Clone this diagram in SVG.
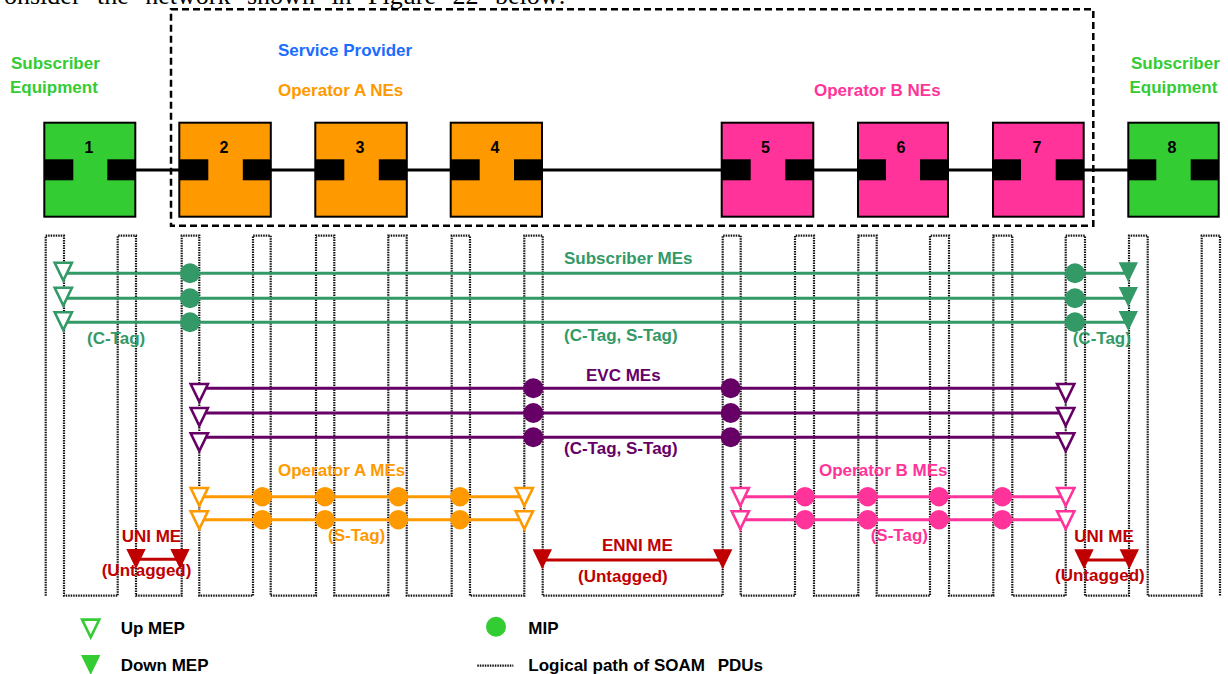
<svg xmlns="http://www.w3.org/2000/svg" xmlns:xlink="http://www.w3.org/1999/xlink" width="1228" height="674" viewBox="0 0 1228 674">
<style>
text{font-family:"Liberation Sans",Arial,sans-serif;font-weight:bold;font-size:17px}
.num{font-size:16px;fill:#000;text-anchor:middle}
.node{stroke:#000;stroke-width:2}
.ne1{fill:#33CC33}.neA{fill:#FF9900}.neB{fill:#FF3399}
.port{fill:#000}
.link{stroke:#000;stroke-width:3;fill:none}
.dot{stroke:#111;stroke-width:2.2;stroke-dasharray:1.5 1;fill:none}
.g{fill:#339966}.p{fill:#660066}.o{fill:#FF9900}.k{fill:#FF3399}.r{fill:#C00000}.lg{fill:#33CC33}.bl{fill:#1A6CFF}.blk{fill:#000}
.lineG{stroke:#339966;stroke-width:3}
.lineP{stroke:#660066;stroke-width:3}
.lineO{stroke:#FF9900;stroke-width:3}
.lineK{stroke:#FF3399;stroke-width:3}
.lineR{stroke:#C00000;stroke-width:3}
.upG{fill:#fff;stroke:#339966;stroke-width:2.6}
.upP{fill:#fff;stroke:#660066;stroke-width:2.6}
.upO{fill:#fff;stroke:#FF9900;stroke-width:2.6}
.upK{fill:#fff;stroke:#FF3399;stroke-width:2.6}
.upL{fill:#fff;stroke:#33CC33;stroke-width:2.6}
.dnG{fill:#339966}.dnR{fill:#C00000}.dnL{fill:#33CC33}
</style>
<defs>
<path id="up" d="M-8.6,1.3 H8.6 L0,19 Z"/>
<path id="dn" d="M-9.7,0 H9.7 L0,20 Z"/>
</defs>

<text x="4" y="4" style="font-family:'Liberation Serif',serif;font-weight:normal;font-size:26px;word-spacing:10px">onsider the network shown in Figure 22 below:</text>

<g id="provider-box">
<rect x="171" y="9.3" width="922.3" height="216.4" fill="none" stroke="#000" stroke-width="2.5" stroke-dasharray="7 4"/>
</g>

<g id="labels-top">
<text x="11" y="68.5" class="lg">Subscriber</text>
<text x="10" y="92.5" class="lg">Equipment</text>
<text x="278" y="55.5" class="bl">Service Provider</text>
<text x="278" y="96" class="o">Operator A NEs</text>
<text x="814" y="96" class="k">Operator B NEs</text>
<text x="1131" y="68.5" class="lg">Subscriber</text>
<text x="1129.5" y="92.5" class="lg">Equipment</text>
</g>

<g id="connectors">
<line class="link" x1="135" y1="170" x2="1129" y2="170"/>
<path class="dot" d="M45.7 595.7 V235.7 H64 V595.7 H117.7 V235.7 H136 V595.7 H181.7 V235.7 H199.3 V595.7 H253 V235.7 H270.7 V595.7 H316 V235.7 H334.3 V595.7 H388.3 V235.7 H406.7 V595.7 H451.7 V235.7 H470 V595.7 H524.3 V235.7 H542.7 V595.7 H722.7 V235.7 H740.7 V595.7 H795 V235.7 H814 V595.7 H858.3 V235.7 H876.7 V595.7 H930 V235.7 H949 V595.7 H993.3 V235.7 H1012.3 V595.7 H1065.7 V235.7 H1085 V595.7 H1129 V235.7 H1147.7 V595.7 H1201.7 V235.7 H1220 V595.7"/>
</g>

<g id="node1"><rect class="node ne1" x="44.3" y="122.7" width="91" height="94"/><rect class="port" x="44.3" y="159.3" width="29" height="21"/><rect class="port" x="107.3" y="159.3" width="28" height="21"/><text class="num" x="89" y="153">1</text></g>
<g id="node2"><rect class="node neA" x="179.3" y="122.7" width="91.5" height="94"/><rect class="port" x="179.3" y="159.3" width="29" height="21"/><rect class="port" x="242.8" y="159.3" width="28" height="21"/><text class="num" x="224" y="153">2</text></g>
<g id="node3"><rect class="node neA" x="315.3" y="122.7" width="91.5" height="94"/><rect class="port" x="315.3" y="159.3" width="29" height="21"/><rect class="port" x="378.8" y="159.3" width="28" height="21"/><text class="num" x="360" y="153">3</text></g>
<g id="node4"><rect class="node neA" x="450.7" y="122.7" width="91.3" height="94"/><rect class="port" x="450.7" y="159.3" width="29" height="21"/><rect class="port" x="514" y="159.3" width="28" height="21"/><text class="num" x="495" y="153">4</text></g>
<g id="node5"><rect class="node neB" x="721.7" y="122.7" width="91.6" height="94"/><rect class="port" x="721.7" y="159.3" width="29" height="21"/><rect class="port" x="785.3" y="159.3" width="28" height="21"/><text class="num" x="765.5" y="153">5</text></g>
<g id="node6"><rect class="node neB" x="858" y="122.7" width="90" height="94"/><rect class="port" x="858" y="159.3" width="28" height="21"/><rect class="port" x="920" y="159.3" width="28" height="21"/><text class="num" x="901" y="153">6</text></g>
<g id="node7"><rect class="node neB" x="993" y="122.7" width="90.7" height="94"/><rect class="port" x="993" y="159.3" width="28" height="21"/><rect class="port" x="1055.7" y="159.3" width="28" height="21"/><text class="num" x="1037" y="153">7</text></g>
<g id="node8"><rect class="node ne1" x="1128.3" y="122.7" width="90.4" height="94"/><rect class="port" x="1128.3" y="159.3" width="28" height="21"/><rect class="port" x="1190.7" y="159.3" width="28" height="21"/><text class="num" x="1172" y="153">8</text></g>

<g id="subscriber-mes">
<line class="lineG" x1="63" y1="273.3" x2="1128" y2="273.3"/>
<line class="lineG" x1="63" y1="298.3" x2="1128" y2="298.3"/>
<line class="lineG" x1="63" y1="322.3" x2="1128" y2="322.3"/>
<use xlink:href="#up" class="upG" x="63.3" y="261.5"/>
<use xlink:href="#up" class="upG" x="63.3" y="286.5"/>
<use xlink:href="#up" class="upG" x="63.3" y="311"/>
<circle class="g" cx="190" cy="273.3" r="10"/>
<circle class="g" cx="190" cy="298.3" r="10"/>
<circle class="g" cx="190" cy="322.3" r="10"/>
<circle class="g" cx="1075" cy="273.3" r="10"/>
<circle class="g" cx="1075" cy="298.3" r="10"/>
<circle class="g" cx="1075" cy="322.3" r="10"/>
<use xlink:href="#dn" class="dnG" x="1128.3" y="262.3"/>
<use xlink:href="#dn" class="dnG" x="1128.3" y="287"/>
<use xlink:href="#dn" class="dnG" x="1128.3" y="311"/>
<text x="564" y="263.5" class="g">Subscriber MEs</text>
<text x="87" y="344" class="g">(C-Tag)</text>
<text x="564" y="341" class="g">(C-Tag, S-Tag)</text>
<text x="1072.7" y="344" class="g">(C-Tag)</text>
</g>

<g id="evc-mes">
<line class="lineP" x1="199" y1="388.3" x2="1066" y2="388.3"/>
<line class="lineP" x1="199" y1="413" x2="1066" y2="413"/>
<line class="lineP" x1="199" y1="437.3" x2="1066" y2="437.3"/>
<use xlink:href="#up" class="upP" x="199.3" y="382.7"/>
<use xlink:href="#up" class="upP" x="199.3" y="406.7"/>
<use xlink:href="#up" class="upP" x="199.3" y="432"/>
<use xlink:href="#up" class="upP" x="1065.7" y="382.7"/>
<use xlink:href="#up" class="upP" x="1065.7" y="406.7"/>
<use xlink:href="#up" class="upP" x="1065.7" y="432"/>
<circle class="p" cx="533.3" cy="388.3" r="10"/>
<circle class="p" cx="533.3" cy="413" r="10"/>
<circle class="p" cx="533.3" cy="437.3" r="10"/>
<circle class="p" cx="730.7" cy="388.3" r="10"/>
<circle class="p" cx="730.7" cy="413" r="10"/>
<circle class="p" cx="730.7" cy="437.3" r="10"/>
<text x="586" y="381" class="p">EVC MEs</text>
<text x="564" y="454" class="p">(C-Tag, S-Tag)</text>
</g>

<g id="operator-a-mes">
<line class="lineO" x1="199" y1="496.7" x2="524" y2="496.7"/>
<line class="lineO" x1="199" y1="519.7" x2="524" y2="519.7"/>
<use xlink:href="#up" class="upO" x="199.3" y="486.7"/>
<use xlink:href="#up" class="upO" x="199.3" y="510"/>
<use xlink:href="#up" class="upO" x="524.3" y="486.7"/>
<use xlink:href="#up" class="upO" x="524.3" y="510"/>
<circle class="o" cx="262.3" cy="496.7" r="9.7"/>
<circle class="o" cx="325" cy="496.7" r="9.7"/>
<circle class="o" cx="398.3" cy="496.7" r="9.7"/>
<circle class="o" cx="460" cy="496.7" r="9.7"/>
<circle class="o" cx="262.3" cy="519.7" r="9.7"/>
<circle class="o" cx="325" cy="519.7" r="9.7"/>
<circle class="o" cx="398.3" cy="519.7" r="9.7"/>
<circle class="o" cx="460" cy="519.7" r="9.7"/>
<text x="278" y="476" class="o">Operator A MEs</text>
<text x="328" y="541" class="o">(S-Tag)</text>
</g>

<g id="operator-b-mes">
<line class="lineK" x1="740" y1="496.7" x2="1066" y2="496.7"/>
<line class="lineK" x1="740" y1="519.7" x2="1066" y2="519.7"/>
<use xlink:href="#up" class="upK" x="740.3" y="486.7"/>
<use xlink:href="#up" class="upK" x="740.3" y="510"/>
<use xlink:href="#up" class="upK" x="1065.7" y="486.7"/>
<use xlink:href="#up" class="upK" x="1065.7" y="510"/>
<circle class="k" cx="805" cy="496.7" r="9.7"/>
<circle class="k" cx="867.7" cy="496.7" r="9.7"/>
<circle class="k" cx="939" cy="496.7" r="9.7"/>
<circle class="k" cx="1002.3" cy="496.7" r="9.7"/>
<circle class="k" cx="805" cy="519.7" r="9.7"/>
<circle class="k" cx="867.7" cy="519.7" r="9.7"/>
<circle class="k" cx="939" cy="519.7" r="9.7"/>
<circle class="k" cx="1002.3" cy="519.7" r="9.7"/>
<text x="819" y="476" class="k">Operator B MEs</text>
<text x="870.7" y="541" class="k">(S-Tag)</text>
</g>

<g id="uni-me-left">
<line class="lineR" x1="136" y1="559.3" x2="180" y2="559.3"/>
<use xlink:href="#dn" class="dnR" x="136" y="549"/>
<use xlink:href="#dn" class="dnR" x="180" y="549"/>
<text x="121.7" y="541.5" class="r">UNI ME</text>
<text x="101.7" y="576" class="r">(Untagged)</text>
</g>

<g id="enni-me">
<line class="lineR" x1="542" y1="560" x2="723" y2="560"/>
<use xlink:href="#dn" class="dnR" x="542.3" y="549.3"/>
<use xlink:href="#dn" class="dnR" x="722.7" y="549.3"/>
<text x="602" y="551" class="r">ENNI ME</text>
<text x="578" y="581.5" class="r">(Untagged)</text>
</g>

<g id="uni-me-right">
<line class="lineR" x1="1084" y1="560" x2="1129" y2="560"/>
<use xlink:href="#dn" class="dnR" x="1084" y="549.3"/>
<use xlink:href="#dn" class="dnR" x="1129.3" y="549.3"/>
<text x="1074.3" y="541.5" class="r">UNI ME</text>
<text x="1055" y="581" class="r">(Untagged)</text>
</g>

<g id="legend">
<use xlink:href="#up" class="upL" x="90.7" y="618.3"/>
<text x="120.7" y="634.3" class="blk">Up MEP</text>
<use xlink:href="#dn" class="dnL" x="90.7" y="655"/>
<text x="120.7" y="670.7" class="blk">Down MEP</text>
<circle class="lg" cx="496" cy="626.7" r="10"/>
<text x="528.3" y="634.3" class="blk">MIP</text>
<line class="dot" x1="477.3" y1="665.7" x2="513.3" y2="665.7"/>
<text x="528.3" y="670.7" class="blk">Logical path of SOAM <tspan dx="8">PDUs</tspan></text>
</g>
</svg>
